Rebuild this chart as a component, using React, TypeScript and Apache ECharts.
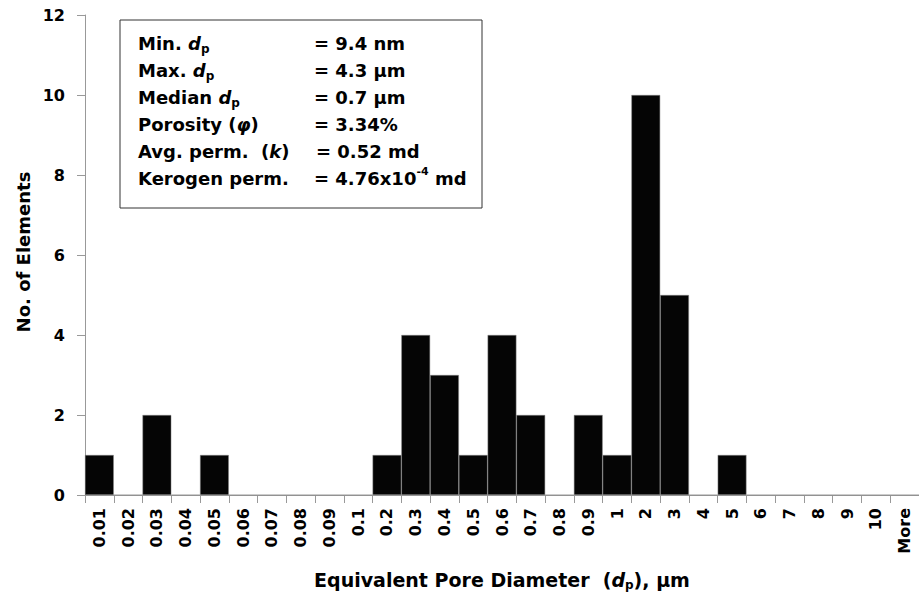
import React, { useEffect, useRef } from "react";
import * as echarts from "echarts";

const categories = [
  "0.01", "0.02", "0.03", "0.04", "0.05", "0.06", "0.07", "0.08", "0.09", "0.1",
  "0.2", "0.3", "0.4", "0.5", "0.6", "0.7", "0.8", "0.9", "1", "2",
  "3", "4", "5", "6", "7", "8", "9", "10", "More",
];
const counts = [
  1, 0, 2, 0, 1, 0, 0, 0, 0, 0,
  1, 4, 3, 1, 4, 2, 0, 2, 1, 10,
  5, 0, 1, 0, 0, 0, 0, 0, 0,
];
const statLabels = [
  "{b|Min. }{i|d}{sub|p}",
  "{b|Max. }{i|d}{sub|p}",
  "{b|Median }{i|d}{sub|p}",
  "{b|Porosity (}{i|φ}{b|)}",
  "{b|Avg. perm.  (}{i|k}{b|)}",
  "{b|Kerogen perm.}",
];
const statValues = [
  "{b|= 9.4 nm}",
  "{b|= 4.3 µm}",
  "{b|= 0.7 µm}",
  "{b|= 3.34%}",
  "{b|= 0.52 md}",
  "{b|= 4.76x10}{sup|-4}{b| md}",
];

const FONT = "'DejaVu Sans', 'Liberation Sans', sans-serif";
const rich = {
  b: { fontSize: 18, fontWeight: "bold", fontFamily: FONT, color: "#000", lineHeight: 24 },
  i: { fontSize: 18, fontWeight: "bold", fontStyle: "italic", fontFamily: FONT, color: "#000", lineHeight: 24 },
  sub: { fontSize: 12, fontWeight: "bold", fontFamily: FONT, color: "#000", lineHeight: 24, verticalAlign: "bottom", padding: [11, 0, 0, 0] },
  sup: { fontSize: 11, fontWeight: "bold", fontFamily: FONT, color: "#000", lineHeight: 24, verticalAlign: "top", padding: [0, 0, 10, 0] },
};

export default function App() {
  const ref = useRef<HTMLDivElement>(null);
  useEffect(() => {
    if (!ref.current) return;
    const chart = echarts.init(ref.current, undefined, { renderer: "svg" });
    const lineY0 = 43;
    const step = 27;
    const graphics: any[] = [
      {
        type: "rect",
        shape: { x: 120, y: 20, width: 362, height: 188 },
        style: { fill: "#fff", stroke: "#333", lineWidth: 1 },
        z: 10,
      },
    ];
    statLabels.forEach((t, k) => {
      graphics.push({
        type: "text",
        x: 138,
        y: lineY0 + k * step,
        z: 11,
        style: { text: t, rich, verticalAlign: "middle", align: "left" },
      });
    });
    statValues.forEach((t, k) => {
      graphics.push({
        type: "text",
        x: k === 4 ? 316 : 314,
        y: lineY0 + k * step,
        z: 11,
        style: { text: t, rich, verticalAlign: "middle", align: "left" },
      });
    });
    graphics.push({
      type: "text",
      x: 502,
      y: 580,
      z: 11,
      style: {
        text: "{t|Equivalent Pore Diameter  (}{i|d}{sub|p}{t|), µm}",
        align: "center",
        verticalAlign: "middle",
        rich: {
          t: { fontSize: 19, fontWeight: "bold", fontFamily: FONT, color: "#000", lineHeight: 22 },
          i: { fontSize: 19, fontWeight: "bold", fontStyle: "italic", fontFamily: FONT, color: "#000", lineHeight: 22 },
          sub: { fontSize: 12, fontWeight: "bold", fontFamily: FONT, color: "#000", lineHeight: 22, verticalAlign: "bottom", padding: [10, 0, 0, 0] },
        },
      },
    });
    graphics.push({
      type: "text",
      x: 23,
      y: 252,
      rotation: Math.PI / 2,
      z: 11,
      style: {
        text: "No. of Elements",
        fontSize: 18,
        fontWeight: "bold",
        fontFamily: FONT,
        fill: "#000",
        align: "center",
        verticalAlign: "middle",
      },
    });

    chart.setOption({
      animation: false,
      backgroundColor: "#fff",
      grid: { left: 85, width: 840, top: 15, bottom: 101, containLabel: false },
      xAxis: {
        type: "category",
        data: categories,
        axisLine: { lineStyle: { color: "#999", width: 1 } },
        axisTick: { show: true, length: 8, lineStyle: { color: "#999" } },
        axisLabel: {
          rotate: 90,
          interval: 0,
          margin: 13,
          fontSize: 16,
          fontWeight: "bold",
          fontFamily: FONT,
          color: "#000",
        },
      },
      yAxis: {
        type: "value",
        min: 0,
        max: 12,
        interval: 2,
        splitLine: { show: false },
        axisLine: { show: true, lineStyle: { color: "#999", width: 1 } },
        axisTick: { show: true, length: 8, lineStyle: { color: "#999" } },
        axisLabel: {
          margin: 20,
          fontSize: 16,
          fontWeight: "bold",
          fontFamily: FONT,
          color: "#000",
        },
      },
      series: [
        {
          type: "bar",
          data: counts,
          barCategoryGap: "0%",
          itemStyle: { color: "#050505", borderColor: "#888", borderWidth: 0.5 },
        },
      ],
      graphic: graphics,
    });
    return () => chart.dispose();
  }, []);
  return <div ref={ref} style={{ width: 919, height: 596, position: "absolute", left: 0, top: 0 }} />;
}
